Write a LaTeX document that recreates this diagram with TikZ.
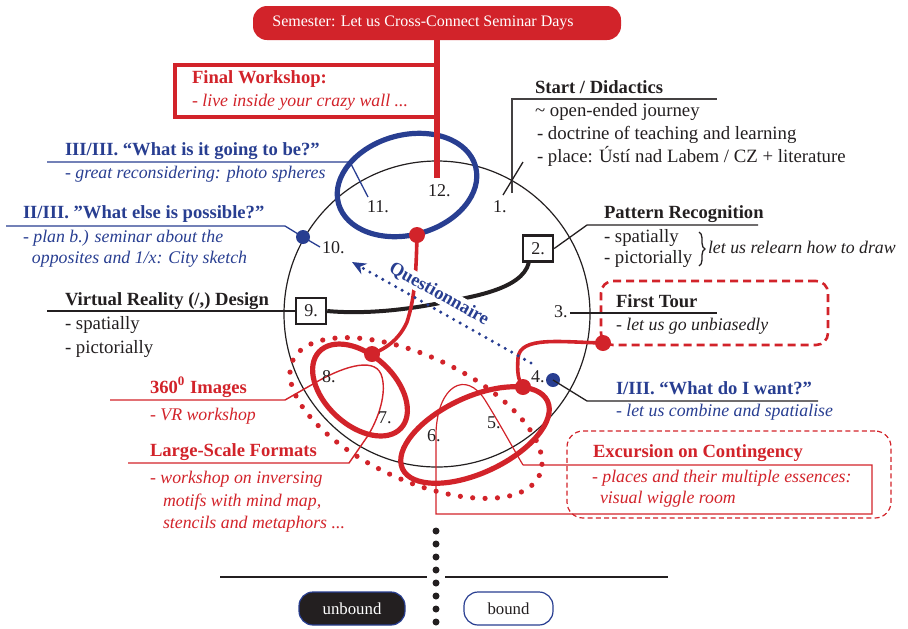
\documentclass[tikz,border=0pt]{standalone}
\usepackage{fontspec}
\setmainfont{Liberation Serif}
\usetikzlibrary{decorations.pathreplacing,arrows.meta}
\definecolor{myred}{RGB}{210,35,42}
\definecolor{myblue}{RGB}{40,62,145}
\definecolor{myblack}{RGB}{35,31,32}
\begin{document}
\begin{tikzpicture}[x=0.5pt,y=-0.5pt,
  lab/.style={anchor=base west, inner sep=0pt, outer sep=0pt, font=\fontsize{9.4}{11}\selectfont, text=myblack},
  hd/.style={lab, font=\fontsize{9.3}{11}\selectfont\bfseries},
  itl/.style={lab, font=\fontsize{8.9}{11}\selectfont\itshape},
  num/.style={lab, font=\fontsize{9}{11}\selectfont},
  fine/.style={line width=0.65pt, draw=myblack},
  numbox/.style={draw=myblack, line width=1.2pt, minimum width=15pt, minimum height=13pt, inner sep=0pt, font=\fontsize{9}{11}\selectfont, text=myblack},
  rdot/.style={circle, fill=myred, inner sep=0pt, minimum size=8pt},
  bdot/.style={circle, fill=myblue, inner sep=0pt, minimum size=7pt},
  redline/.style={draw=myred, line width=1.8pt},
  pill/.style={rounded corners=7pt, minimum width=53pt, minimum height=16.5pt, inner sep=0pt, line width=0.6pt, draw=myblue, font=\fontsize{8.4}{10}\selectfont}
]
\useasboundingbox (0,0) rectangle (908,628);

% main circle
\draw[line width=0.6pt, myblack] (437,314) circle [radius=153];

% dotted red ellipse
\begin{scope}[shift={(416,418)}, rotate=-25]
\draw[myred, line width=2.6pt, line cap=round, dash pattern=on 0pt off 6.2pt] (0,0) ellipse [x radius=136, y radius=62];
\end{scope}

% thin red paths
\coordinate (i1) at (110,400);
\coordinate (i2) at (285,400);
\coordinate (i3) at (313,384);
\coordinate (i4) at (381,374);
\coordinate (i5) at (367,437);
\coordinate (i6) at (349,463);
\coordinate (i7) at (128,463);
\draw[myred, line width=0.7pt] (i1) -- (i2) -- (i3) .. controls (340,368) and (373,356) .. (i4) .. controls (388,392) and (378,420) .. (i5) -- (i6) -- (i7);

\coordinate (x1) at (523,465);
\coordinate (x2) at (872,465);
\coordinate (x3) at (872,514);
\coordinate (x4) at (436,514);
\coordinate (x5) at (436,432);
\coordinate (x6) at (485,400);
\draw[myred, line width=0.6pt] (x1) -- (x2) -- (x3) -- (x4) -- (x5) .. controls (438,385) and (466,370) .. (x6) .. controls (500,424) and (514,450) .. (x1);

% red ellipses
\begin{scope}[shift={(475,435)}, rotate=25]
\draw[myred, line width=2.6pt] (0,0) ellipse [x radius=80, y radius=38];
\end{scope}
\begin{scope}[shift={(360,390)}, rotate=-43]
\draw[myred, line width=2.6pt] (0,0) ellipse [x radius=56, y radius=35];
\end{scope}
% blue ellipse
\begin{scope}[shift={(407,185)}, rotate=15]
\draw[myblue, line width=2.6pt] (0,0) ellipse [x radius=71, y radius=50];
\end{scope}

% title and final workshop
\node[fill=myred, rounded corners=7pt, minimum width=184pt, minimum height=17pt, inner sep=0pt, text=white, font=\fontsize{8}{10}\selectfont] (title) at (437,23) {Semester: Let us Cross-Connect Seminar Days\hspace*{14pt}};
\node[draw=myred, line width=2pt, minimum width=130.5pt, minimum height=26.25pt, inner sep=0pt] (fwbox) at (305.5,90.75) {};
\coordinate (c12) at (437,178);
\draw[myred, line width=3.3pt] (title.south) -- (c12);
\node[hd, text=myred] (fwt) at (192,83) {Final Workshop:};
\node[itl, text=myred] (fws) at (192,106) {- live inside your crazy wall ...};

% boxes 2 and 9
\node[numbox] (box2) at (538,248.5) {2.};
\node[numbox] (box9) at (311,311) {9.};
\draw[myblack, line width=2pt] ([xshift=3.5pt]box2.south west) .. controls (522,290) and (470,297) .. (440,303) .. controls (400,311) and (360,314) .. (box9.east);

% red dots and connectors
\node[rdot] (R1) at (417,235) {};
\node[rdot] (R2) at (372,354) {};
\node[rdot] (R3) at (603,343) {};
\node[rdot] (R4) at (523,387) {};
\draw[redline] (R1.center) .. controls (416,280) and (414,300) .. (407,322) .. controls (399,340) and (385,349) .. (R2.center);
\draw[redline] (R3.center) .. controls (560,342) and (520,336) .. (518,358) .. controls (517,372) and (518,380) .. (R4.center);

% questionnaire
\coordinate (qs) at (531,363);
\coordinate (qe) at (352,262);
\draw[myblue, line width=1.7pt, line cap=round, dash pattern=on 0pt off 3.7pt, -{Stealth[length=7pt,width=6pt]}] (qs) -- (qe);
\node[fill=white, inner sep=0.5pt, rotate=-29.2, font=\fontsize{9.2}{11}\selectfont\bfseries, text=myblue] (qn) at (439,294) {Questionnaire};

% number labels
\node[num] (n1) at (493,212) {1.};
\node[num] (n3) at (554,317) {3.};
\node[num] (n4) at (531,382) {4.};
\node[num] (n5) at (487,428) {5.};
\node[num] (n6) at (427,441) {6.};
\node[num] (n7) at (378,423) {7.};
\node[num] (n8) at (322,382) {8.};
\node[num] (n10) at (322,253) {10.};
\node[num] (n11) at (367,212) {11.};
\node[num] (n12) at (428,196) {12.};

% Start / Didactics
\coordinate (s1) at (512,193);
\coordinate (s2) at (512,99);
\coordinate (s3) at (717,99);
\draw[line width=0.8pt, myblack!85] (s1) -- (s2) -- (s3);
\coordinate (k1) at (503,195);
\coordinate (k2) at (523,162);
\draw[fine] (k1) -- (k2);
\node[hd] (sd) at (535,93) {Start / Didactics};
\node[lab] (sd1) at (535,116) {\textasciitilde{} open-ended journey};
\node[lab] (sd2) at (537,139) {- doctrine of teaching and learning};
\node[lab] (sd3) at (537,162) {- place: Ústí nad Labem / CZ + literature};

% Pattern recognition
\coordinate (p1) at (758,225);
\coordinate (p2) at (587,225);
\draw[fine] (p1) -- (p2) -- (box2.east);
\node[hd] (pr) at (604,218) {Pattern Recognition};
\node[lab] (pr1) at (604,242) {- spatially};
\node[lab] (pr2) at (604,263) {- pictorially};
\coordinate (b1) at (699,232);
\coordinate (b2) at (699,266);
\draw[fine, decorate, decoration={brace, amplitude=3pt}] (b1) -- (b2);
\node[itl] (pr3) at (708,253) {let us relearn how to draw};

% First tour
\node[draw=myred, line width=1.3pt, dash pattern=on 4pt off 2.5pt, rounded corners=6pt, minimum width=113.5pt, minimum height=32pt, inner sep=0pt] (ftbox) at (714.5,313) {};
\coordinate (f1) at (570,313);
\coordinate (f2) at (717,313);
\draw[fine] (f1) -- (f2);
\node[hd] (ft) at (616,307) {First Tour};
\node[itl] (fts) at (616,330) {- let us go unbiasedly};

% I/III
\node[bdot] (d4) at (553,380) {};
\coordinate (w1) at (587,401);
\coordinate (w2) at (818,401);
\draw[fine] (d4.center) -- (w1) -- (w2);
\node[hd, text=myblue] (t1) at (616,394) {I/III. “What do I want?”};
\node[itl, text=myblue] (t1s) at (616,416) {- let us combine and spatialise};

% Excursion
\node[draw=myred, line width=0.6pt, dash pattern=on 2.5pt off 1.6pt, rounded corners=8pt, minimum width=162pt, minimum height=43.5pt, inner sep=0pt] (exbox) at (729,474.5) {};
\node[hd, text=myred] (ex) at (593,457) {Excursion on Contingency};
\node[itl, text=myred] (ex1) at (592,482) {- places and their multiple essences:};
\node[itl, text=myred] (ex2) at (600,503) {visual wiggle room};

% III/III
\coordinate (u1) at (47,162);
\coordinate (u2) at (350,162);
\coordinate (u3) at (368,197);
\draw[fine, draw=myblue] (u1) -- (u2) -- (u3);
\node[hd, text=myblue] (t3) at (65,155) {III/III. “What is it going to be?”};
\node[itl, text=myblue] (t3s) at (65,178) {- great reconsidering: photo spheres};

% II/III
\node[bdot] (d10) at (303,237) {};
\coordinate (v1) at (6,226);
\coordinate (v2) at (285,226);
\coordinate (v3) at (320,247);
\draw[fine, draw=myblue] (v1) -- (v2) -- (d10.center) -- (v3);
\node[hd, text=myblue] (t2) at (23,218) {II/III. ”What else is possible?”};
\node[itl, text=myblue] (t2s) at (23,242) {- plan b.) seminar about the};
\node[itl, text=myblue] (t2s2) at (32,263) {opposites and 1/x: City sketch};

% Virtual reality
\coordinate (vr0) at (47,311);
\draw[fine] (vr0) -- (box9.west);
\node[hd] (vr) at (65,305) {Virtual Reality (/,) Design};
\node[lab] (vr1) at (65,329) {- spatially};
\node[lab] (vr2) at (65,353) {- pictorially};

% 360 / large scale
\node[hd, text=myred] (im) at (150,393) {360\textsuperscript{0} Images};
\node[itl, text=myred] (im1) at (150,420) {- VR workshop};
\node[hd, text=myred] (ls) at (150,456) {Large-Scale Formats};
\node[itl, text=myred] (ls1) at (150,483) {- workshop on inversing};
\node[itl, text=myred] (ls2) at (163,506) {motifs with mind map,};
\node[itl, text=myred] (ls3) at (163,528) {stencils and metaphors ...};

% bottom
\coordinate (z1) at (436,531);
\coordinate (z2) at (436,628);
\draw[myblack, line width=3.5pt, line cap=round, dash pattern=on 0pt off 6.5pt] (z1) -- (z2);
\coordinate (h1) at (220,577);
\coordinate (h2) at (427,577);
\coordinate (h3) at (445,577);
\coordinate (h4) at (668,577);
\draw[fine] (h1) -- (h2);
\draw[fine] (h3) -- (h4);
\node[pill, fill=myblack, text=white] (ub) at (352,608.5) {unbound};
\node[pill, fill=white, text=myblack, minimum width=44.5pt] (bd) at (508.5,608.5) {bound};
\end{tikzpicture}
\end{document}
